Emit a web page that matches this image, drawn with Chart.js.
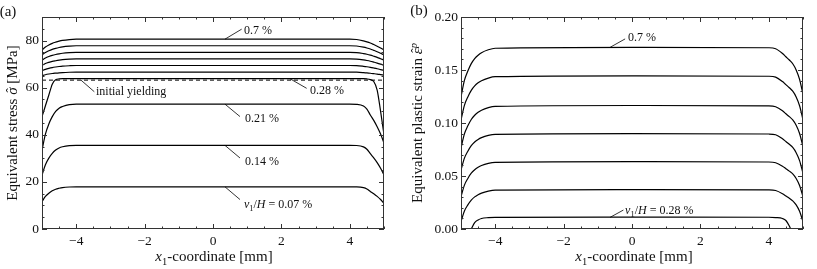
<!DOCTYPE html>
<html>
<head>
<meta charset="utf-8">
<script src="https://cdn.jsdelivr.net/npm/chart.js@4.4.1/dist/chart.umd.min.js"></script>
<style>
html, body { margin: 0; padding: 0; background: #fff; }
#wrap { position: relative; width: 817px; height: 269px; }
.box { position: absolute; top: 0; height: 269px; }
</style>
</head>
<body>
<div id="wrap">
  <div class="box" style="left:0;width:408px"><canvas id="chartA"></canvas></div>
  <div class="box" style="left:408px;width:409px"><canvas id="chartB"></canvas></div>
</div>
<script>
// x1 positions along the specimen [mm]
const xPos = [-5, -4.9, -4.8, -4.7, -4.6, -4.5, -4.4, -4.2, -4, 0, 4, 4.2, 4.4, 4.5, 4.6, 4.7, 4.8, 4.9, 5];

// (a) equivalent stress [MPa], one array per v1/H level
const stress007 = [11.6, 13.8, 15.2, 16.2, 16.9, 17.3, 17.6, 17.84, 17.9, 17.9, 17.9, 17.87, 17.55, 16.99, 15.94, 14.96, 13.84, 12.51, 10.9];
const stress014 = [22.9, 27.3, 30.1, 32.1, 33.5, 34.4, 34.9, 35.4, 35.5, 35.5, 35.5, 35.44, 34.87, 33.86, 31.97, 30.21, 28.19, 25.8, 22.9];
const stress021 = [33.5, 40.3, 44.6, 47.7, 49.9, 51.3, 52.0, 52.8, 53.0, 53.0, 53.0, 52.9, 52.2, 50.9, 48.4, 46.1, 43.4, 40.3, 36.5];
const stress028 = [47.7, 52.3, 56.9, 61.5, 63.4, 63.7, 63.8, 63.8, 63.8, 63.8, 63.8, 63.8, 63.8, 63.7, 63.4, 62.6, 59.0, 50.0, 40.0];
const stress035 = [65.1, 65.5, 65.79, 66.02, 66.18, 66.32, 66.42, 66.54, 66.6, 66.6, 66.6, 66.56, 66.39, 66.28, 66.13, 65.95, 65.76, 65.53, 65.3];
const stress042 = [67.2, 67.79, 68.21, 68.54, 68.78, 68.98, 69.14, 69.31, 69.4, 69.4, 69.4, 69.34, 69.06, 68.88, 68.64, 68.35, 68.04, 67.68, 67.3];
const stress049 = [69.5, 70.23, 70.74, 71.15, 71.44, 71.69, 71.88, 72.09, 72.2, 72.2, 72.2, 72.12, 71.77, 71.53, 71.23, 70.85, 70.45, 69.99, 69.5];
const stress056 = [71.7, 72.59, 73.22, 73.71, 74.08, 74.37, 74.6, 74.87, 75.0, 75.0, 75.0, 74.9, 74.47, 74.18, 73.81, 73.35, 72.86, 72.29, 71.7];
const stress063 = [73.9, 74.95, 75.69, 76.28, 76.71, 77.06, 77.33, 77.64, 77.8, 77.8, 77.8, 77.68, 77.18, 76.83, 76.4, 75.85, 75.27, 74.6, 73.9];
const stress070 = [76.0, 77.24, 78.12, 78.81, 79.31, 79.73, 80.05, 80.42, 80.6, 80.6, 80.6, 80.46, 79.86, 79.45, 78.94, 78.3, 77.61, 76.83, 76.0];
const xYield = [-5, 5];
const yieldStress = [63.2, 63.2];

// (b) equivalent plastic strain
const xPos028 = [-4.7, -4.6, -4.5, -4.4, -4.2, -4, 0, 4, 4.2, 4.4, 4.5, 4.6, 4.64];
const strain028 = [0, 0.006, 0.0085, 0.0099, 0.0107, 0.011, 0.0112, 0.0111, 0.0108, 0.0099, 0.0080, 0.0028, 0];
const strain035 = [0.007, 0.0170, 0.0227, 0.0272, 0.0303, 0.0324, 0.0339, 0.0357, 0.0366, 0.0372, 0.0369, 0.0363, 0.0333, 0.0312, 0.0291, 0.0266, 0.0227, 0.0167, 0.007];
const strain042 = [0.0305, 0.0414, 0.0477, 0.0526, 0.0559, 0.0582, 0.0599, 0.0619, 0.0628, 0.0635, 0.0632, 0.0625, 0.0592, 0.0569, 0.0546, 0.0520, 0.0477, 0.0411, 0.0305];
const strain049 = [0.0555, 0.0669, 0.0734, 0.0786, 0.0821, 0.0845, 0.0862, 0.0883, 0.0893, 0.0900, 0.0896, 0.0889, 0.0851, 0.0825, 0.0799, 0.0769, 0.0720, 0.0645, 0.0525];
const strain056 = [0.0765, 0.0897, 0.0973, 0.1033, 0.1073, 0.1101, 0.1121, 0.1145, 0.1157, 0.1165, 0.1161, 0.1153, 0.1115, 0.1087, 0.1060, 0.1029, 0.0979, 0.0901, 0.0777];
const strain063 = [0.103, 0.1167, 0.1246, 0.1308, 0.1350, 0.1379, 0.1399, 0.1424, 0.1437, 0.1445, 0.1441, 0.1433, 0.1391, 0.1362, 0.1333, 0.1300, 0.1246, 0.1163, 0.103];
const strain070 = [0.1248, 0.1402, 0.1490, 0.1560, 0.1607, 0.1639, 0.1663, 0.1691, 0.1705, 0.1714, 0.1710, 0.1701, 0.1656, 0.1625, 0.1594, 0.1559, 0.1501, 0.1412, 0.127];

// tick labels
const xTicks = [-4, -2, 0, 2, 4];
const stressTicks = [0, 20, 40, 60, 80];
const strainTicks = [0, 0.05, 0.10, 0.15, 0.20];

const FONT = '"Liberation Serif", "DejaVu Serif", serif';

function pts(xs, ys) {
    return xs.map((x, i) => ({ x: x, y: ys[i] }));
}

function curve(xs, ys, dash) {
    return {
        data: pts(xs, ys),
        borderColor: '#000',
        borderWidth: dash ? 1 : 1.2,
        borderDash: dash || [],
        pointRadius: 0,
        fill: false,
        cubicInterpolationMode: 'monotone'
    };
}

// text with italic / sub / sup / hat pieces
function drawRich(ctx, parts, x, y, size, align, rot) {
    ctx.save();
    ctx.translate(x, y);
    if (rot) ctx.rotate(rot);
    const fontOf = p => (p.i ? 'italic ' : '') + ((p.sub || p.sup) ? size * 0.7 : size) + 'px ' + FONT;
    let w = 0;
    parts.forEach(p => { ctx.font = fontOf(p); w += ctx.measureText(p.t).width; });
    let cx = align === 'center' ? -w / 2 : 0;
    ctx.fillStyle = '#111';
    ctx.textBaseline = 'alphabetic';
    ctx.textAlign = 'left';
    parts.forEach(p => {
        ctx.font = fontOf(p);
        const dy = p.sub ? size * 0.25 : p.sup ? -size * 0.38 : 0;
        const pw = ctx.measureText(p.t).width;
        ctx.fillText(p.t, cx, dy + size * 0.35);
        if (p.hat) {
            ctx.font = (size * 0.85) + 'px ' + FONT;
            ctx.textAlign = 'center';
            ctx.fillText('\u02C6', cx + pw * 0.6, size * 0.35 - size * 0.12);
            ctx.textAlign = 'left';
        }
        cx += pw;
    });
    ctx.restore();
}

const panelPlugin = {
    id: 'panel',
    afterDraw(chart, args, opts) {
        const { ctx, chartArea: a, scales: { x, y } } = chart;
        ctx.save();
        ctx.strokeStyle = '#333';
        ctx.lineWidth = 1;
        ctx.strokeRect(a.left + 0.5, a.top + 0.5, a.right - a.left - 1, a.bottom - a.top - 1);

        // inward frame ticks
        ctx.beginPath();
        const nx0 = Math.ceil(x.min / opts.minorX - 1e-9), nx1 = Math.floor(x.max / opts.minorX + 1e-9);
        for (let i = nx0; i <= nx1; i++) {
            const v = i * opts.minorX;
            const major = xTicks.some(t => Math.abs(t - v) < 1e-9);
            const len = major ? 5 : 2.5;
            const px = Math.round(x.getPixelForValue(v)) + 0.5;
            ctx.moveTo(px, a.bottom); ctx.lineTo(px, a.bottom - len);
            ctx.moveTo(px, a.top); ctx.lineTo(px, a.top + len);
        }
        const ny0 = Math.ceil(y.min / opts.minorY - 1e-9), ny1 = Math.floor(y.max / opts.minorY + 1e-9);
        for (let i = ny0; i <= ny1; i++) {
            const v = i * opts.minorY;
            const major = opts.yTicks.some(t => Math.abs(t - v) < 1e-9);
            const len = major ? 5 : 2.5;
            const py = Math.round(y.getPixelForValue(v)) + 0.5;
            ctx.moveTo(a.left, py); ctx.lineTo(a.left + len, py);
            ctx.moveTo(a.right, py); ctx.lineTo(a.right - len, py);
        }
        ctx.stroke();

        // labels with leader lines
        ctx.strokeStyle = '#000';
        ctx.lineWidth = 0.8;
        opts.notes.forEach(n => {
            const px = x.getPixelForValue(n.at[0]);
            const py = y.getPixelForValue(n.at[1]);
            ctx.beginPath();
            ctx.moveTo(px, py);
            ctx.lineTo(px + n.line[0], py + n.line[1]);
            ctx.stroke();
            drawRich(ctx, n.parts, px + n.text[0], py + n.text[1], 12, 'left');
        });

        // axis titles and panel tag
        drawRich(ctx, opts.xTitle, opts.xTitlePos[0], opts.xTitlePos[1], 15, 'center');
        drawRich(ctx, opts.yTitle, opts.yTitlePos[0], opts.yTitlePos[1], 15, 'center', -Math.PI / 2);
        drawRich(ctx, [{ t: opts.tag }], opts.tagPos[0], opts.tagPos[1], 15, 'center');
        ctx.restore();
    }
};

const xTitle = [{ t: 'x', i: 1 }, { t: '1', sub: 1 }, { t: '-coordinate [mm]' }];

function makeOptions(yMin, yMax, yTickVals, yFmt, yWidth, padRight, panel) {
    return {
        responsive: true,
        maintainAspectRatio: false,
        animation: false,
        layout: { padding: { left: 0, right: padRight, top: 17, bottom: 0 } },
        plugins: { legend: { display: false }, tooltip: { enabled: false }, panel: panel },
        scales: {
            x: {
                type: 'linear',
                min: -5,
                max: 5,
                afterBuildTicks: s => { s.ticks = xTicks.map(v => ({ value: v })); },
                afterFit: s => { s.height = 40; },
                grid: { display: false, drawTicks: false },
                border: { display: false },
                ticks: {
                    padding: 4,
                    color: '#111',
                    font: { family: FONT, size: 13.5 },
                    callback: v => (v < 0 ? '\u2212' + Math.abs(v) : String(v))
                }
            },
            y: {
                type: 'linear',
                min: yMin,
                max: yMax,
                afterBuildTicks: s => { s.ticks = yTickVals.map(v => ({ value: v })); },
                afterFit: s => { s.width = yWidth; },
                grid: { display: false, drawTicks: false },
                border: { display: false },
                ticks: {
                    padding: 3,
                    color: '#111',
                    font: { family: FONT, size: 13.5 },
                    callback: yFmt
                }
            }
        }
    };
}

new Chart(document.getElementById('chartA').getContext('2d'), {
    type: 'line',
    data: {
        datasets: [
            curve(xPos, stress007), curve(xPos, stress014), curve(xPos, stress021),
            curve(xPos, stress028), curve(xPos, stress035), curve(xPos, stress042),
            curve(xPos, stress049), curve(xPos, stress056), curve(xPos, stress063),
            curve(xPos, stress070), curve(xYield, yieldStress, [4, 3])
        ]
    },
    options: makeOptions(0, 90, stressTicks, v => String(v), 42, 24, {
        minorX: 0.5, minorY: 5, yTicks: stressTicks,
        xTitle: xTitle, xTitlePos: [214, 256],
        yTitle: [{ t: 'Equivalent stress ' }, { t: 'σ', i: 1, hat: 1 }, { t: ' [MPa]' }], yTitlePos: [12, 123],
        tag: '(a)', tagPos: [8, 11],
        notes: [
            { at: [0.35, 80.6], line: [16.7, -10], text: [19, -9], parts: [{ t: '0.7 %' }] },
            { at: [2.25, 63.8], line: [16.7, 9.6], text: [20, 11], parts: [{ t: '0.28 %' }] },
            { at: [-3.86, 63.2], line: [13.3, 11.6], text: [15, 11], parts: [{ t: 'initial yielding' }] },
            { at: [0.35, 53.0], line: [15, 12.4], text: [20, 14], parts: [{ t: '0.21 %' }] },
            { at: [0.35, 35.5], line: [15, 12.6], text: [20, 15], parts: [{ t: '0.14 %' }] },
            { at: [0.35, 17.9], line: [15, 12.7], text: [19, 16.5],
              parts: [{ t: 'v', i: 1 }, { t: '1', sub: 1 }, { t: '/' }, { t: 'H', i: 1 }, { t: ' = 0.07 %' }] }
        ]
    }),
    plugins: [panelPlugin]
});

new Chart(document.getElementById('chartB').getContext('2d'), {
    type: 'line',
    data: {
        datasets: [
            curve(xPos028, strain028), curve(xPos, strain035), curve(xPos, strain042),
            curve(xPos, strain049), curve(xPos, strain056), curve(xPos, strain063),
            curve(xPos, strain070)
        ]
    },
    options: makeOptions(0, 0.2, strainTicks, v => v.toFixed(2), 53, 14, {
        minorX: 0.5, minorY: 0.01, yTicks: strainTicks,
        xTitle: xTitle, xTitlePos: [226, 256],
        yTitle: [{ t: 'Equivalent plastic strain ' }, { t: 'ε', i: 1, hat: 1 }, { t: 'p', i: 1, sup: 1 }], yTitlePos: [9, 123],
        tag: '(b)', tagPos: [11, 10],
        notes: [
            { at: [-0.64, 0.1714], line: [15, -8.4], text: [18, -10.7], parts: [{ t: '0.7 %' }] },
            { at: [-0.64, 0.011], line: [13.3, -7.3], text: [15, -7.3],
              parts: [{ t: 'v', i: 1 }, { t: '1', sub: 1 }, { t: '/' }, { t: 'H', i: 1 }, { t: ' = 0.28 %' }] }
        ]
    }),
    plugins: [panelPlugin]
});
</script>
</body>
</html>
